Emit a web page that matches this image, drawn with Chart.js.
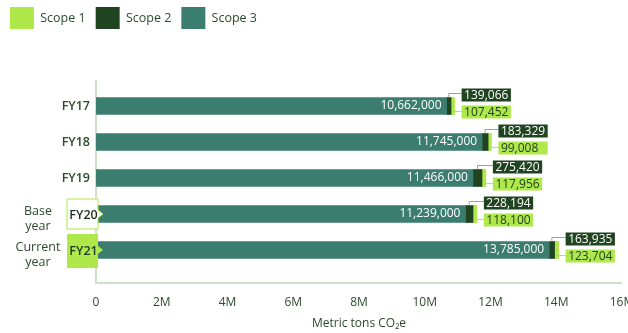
<!DOCTYPE html>
<html>
<head>
<meta charset="utf-8">
<script src="https://cdn.jsdelivr.net/npm/chart.js@4.4.0/dist/chart.umd.min.js"></script>
<style>
  html, body { margin: 0; padding: 0; background: #fff; }
  #wrap { width: 628px; height: 333px; position: relative; }
</style>
</head>
<body>
<div id="wrap"><canvas id="emissions"></canvas></div>
<script>
// Emissions per fiscal year, metric tons CO2e
const years = ['FY17', 'FY18', 'FY19', 'FY20', 'FY21'];
const yearNotes = ['', '', '', 'Base year', 'Current year'];
const scope3 = [10662000, 11745000, 11466000, 11239000, 13785000];
const scope2 = [139066, 183329, 275420, 228194, 163935];
const scope1 = [107452, 99008, 117956, 118100, 123704];
const xMax = 16000000;
const xStep = 2000000;

const C = {
    s1: '#aee84a',
    s2: '#1f441f',
    s3: '#3b7d6e',
    text: '#2c4a2c',
    axis: '#cfe0c9',
    leader: '#9aa59a'
};
const FONT = '"Open Sans", "Noto Sans", sans-serif';

const fmt = v => v.toLocaleString('en-US');

// extra room under the legend
const legendGap = {
    id: 'legendGap',
    beforeInit(chart) {
        const fit = chart.legend.fit;
        chart.legend.fit = function () {
            fit.call(this);
            this.height += 49;
        };
    }
};

// axis lines run a bit past the category band
const axisLines = {
    id: 'axisLines',
    beforeDatasetsDraw(chart) {
        const { ctx, chartArea, scales } = chart;
        const x0 = scales.x.getPixelForValue(0);
        const x1 = scales.x.getPixelForValue(xMax);
        ctx.save();
        ctx.strokeStyle = C.axis;
        ctx.lineWidth = 2;
        ctx.beginPath();
        ctx.moveTo(x0, chartArea.top - 8);
        ctx.lineTo(x0, chartArea.bottom + 15);
        ctx.lineTo(x1, chartArea.bottom + 15);
        ctx.stroke();
        ctx.restore();
    }
};

// year labels, FY20 / FY21 get tag boxes
const yearLabels = {
    id: 'yearLabels',
    afterDatasetsDraw(chart) {
        const { ctx, scales } = chart;
        ctx.save();
        ctx.textBaseline = 'middle';
        years.forEach((yr, i) => {
            const y = scales.y.getPixelForValue(i);
            if (!yearNotes[i]) {
                ctx.font = '600 12.5px ' + FONT;
                ctx.fillStyle = C.text;
                ctx.textAlign = 'right';
                ctx.fillText(yr, 90, y);
                return;
            }
            const current = i === years.length - 1;
            const top = current ? y - 16 : y - 15;
            const bot = current ? y + 18 : y + 15;
            const l = 67, r = 98;
            ctx.beginPath();
            ctx.moveTo(l, top);
            ctx.lineTo(r, top);
            ctx.lineTo(r, y - 4);
            ctx.lineTo(r + 5, y);
            ctx.lineTo(r, y + 4);
            ctx.lineTo(r, bot);
            ctx.lineTo(l, bot);
            ctx.closePath();
            if (current) {
                ctx.fillStyle = C.s1;
                ctx.fill();
            } else {
                ctx.fillStyle = '#fff';
                ctx.fill();
                ctx.strokeStyle = C.s1;
                ctx.lineWidth = 1;
                ctx.stroke();
            }
            ctx.font = '600 12.5px ' + FONT;
            ctx.fillStyle = current ? '#1f3a1f' : '#1f2f1f';
            ctx.textAlign = 'center';
            ctx.fillText(yr, (l + r) / 2 + 1, y + 1);

            ctx.font = '12.5px ' + FONT;
            ctx.fillStyle = C.text;
            const words = yearNotes[i].split(' ');
            ctx.fillText(words[0], 38, y - 3);
            ctx.fillText(words[1], 38, y + 12);
        });
        ctx.restore();
    }
};

// value tags: scope 3 inside the bar, scope 2 / scope 1 in boxes past the end
const valueLabels = {
    id: 'valueLabels',
    afterDatasetsDraw(chart) {
        const { ctx } = chart;
        const m3 = chart.getDatasetMeta(0);
        const m2 = chart.getDatasetMeta(1);
        const m1 = chart.getDatasetMeta(2);
        ctx.save();
        ctx.font = '12px ' + FONT;
        ctx.textBaseline = 'middle';
        years.forEach((yr, i) => {
            const b3 = m3.data[i], b2 = m2.data[i], b1 = m1.data[i];
            const y = b3.y;
            const half = b3.height / 2;

            ctx.fillStyle = '#fff';
            ctx.textAlign = 'right';
            ctx.fillText(fmt(scope3[i]), b3.x - 5, y);

            const bx = b1.x + 7;
            const t2 = fmt(scope2[i]), t1 = fmt(scope1[i]);
            const w = Math.max(ctx.measureText(t2).width, ctx.measureText(t1).width) + 5;

            // leaders
            ctx.lineWidth = 1;
            ctx.strokeStyle = C.leader;
            ctx.beginPath();
            const sx = (b2.base + b2.x) / 2;
            ctx.moveTo(sx, y - half);
            ctx.lineTo(sx, y - 12.5);
            ctx.lineTo(bx, y - 12.5);
            ctx.stroke();
            ctx.strokeStyle = C.s1;
            ctx.beginPath();
            ctx.moveTo(b1.x, y + 5.5);
            ctx.lineTo(bx, y + 5.5);
            ctx.stroke();

            ctx.textAlign = 'left';
            ctx.fillStyle = C.s2;
            ctx.fillRect(bx, y - 17.5, w, 13);
            ctx.fillStyle = '#fff';
            ctx.fillText(t2, bx + 2.5, y - 10.5);

            ctx.fillStyle = C.s1;
            ctx.fillRect(bx, y - 0.5, w, 13);
            ctx.fillStyle = '#1f3a1f';
            ctx.fillText(t1, bx + 2.5, y + 6.5);
        });
        ctx.restore();
    }
};

new Chart(document.getElementById('emissions'), {
    type: 'bar',
    data: {
        labels: years,
        datasets: [
            { label: 'Scope 3', data: scope3, backgroundColor: C.s3 },
            { label: 'Scope 2', data: scope2, backgroundColor: C.s2 },
            { label: 'Scope 1', data: scope1, backgroundColor: C.s1 }
        ]
    },
    options: {
        indexAxis: 'y',
        responsive: true,
        maintainAspectRatio: false,
        animation: false,
        layout: { padding: { left: 0, right: 6, top: -3, bottom: 2 } },
        datasets: { bar: { barThickness: 17 } },
        plugins: {
            tooltip: { enabled: false },
            legend: {
                position: 'top',
                align: 'start',
                labels: {
                    boxWidth: 24,
                    boxHeight: 22,
                    padding: 10,
                    color: C.text,
                    font: { family: FONT, size: 12.5 },
                    sort: (a, b) => b.datasetIndex - a.datasetIndex
                }
            }
        },
        scales: {
            x: {
                stacked: true,
                min: 0,
                max: xMax,
                grid: { display: false, drawTicks: false },
                border: { display: false },
                ticks: {
                    stepSize: xStep,
                    padding: 27,
                    color: C.text,
                    font: { family: FONT, size: 12 },
                    callback: v => v === 0 ? '0' : (v / 1e6) + 'M'
                },
                title: {
                    display: true,
                    text: 'Metric tons CO₂e',
                    color: C.text,
                    font: { family: FONT, size: 12 },
                    padding: { top: 0, bottom: 0 }
                },
                afterFit(scale) {
                    scale.height = 63;
                    scale.paddingRight = 0;
                }
            },
            y: {
                stacked: true,
                grid: { display: false, drawTicks: false },
                border: { display: false },
                ticks: { display: false },
                afterFit(scale) {
                    scale.width = 96;
                }
            }
        }
    },
    plugins: [legendGap, axisLines, yearLabels, valueLabels]
});
</script>
</body>
</html>
